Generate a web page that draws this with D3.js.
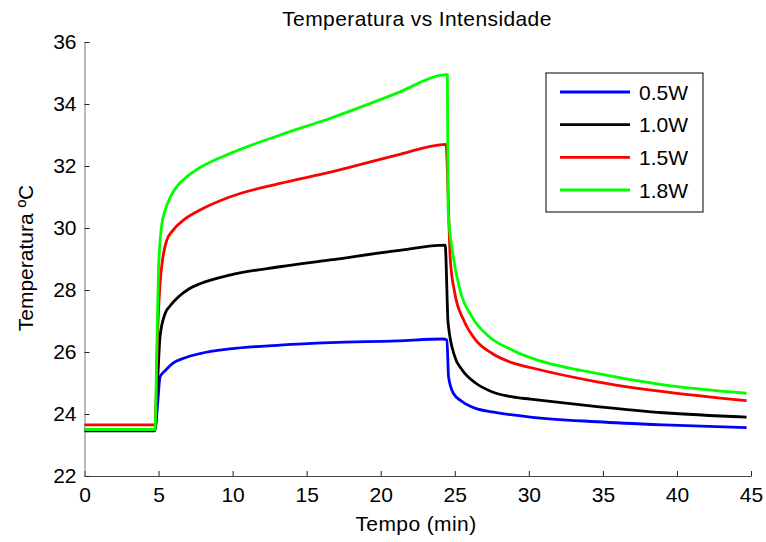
<!DOCTYPE html>
<html>
<head>
<meta charset="utf-8">
<script src="https://cdn.jsdelivr.net/npm/d3@7"></script>
<style>
  body { margin: 0; background: #fff; }
  text { font-family: Arial, "Liberation Sans", sans-serif; }
</style>
</head>
<body>
<svg id="chart" width="766" height="542"></svg>
<script>
// time (min) and temperature (C), one pair of arrays per power level
var t05 = [0, 4.76, 4.95, 5.1, 5.45, 6.0, 6.7, 7.8, 9.8, 13.2, 16.6, 21.1, 24.2, 24.47, 24.58, 24.9, 25.5, 26.4, 27.5, 28.9, 30.1, 34.6, 39.1, 44.7];
var v05 = [23.5, 23.5, 24.4, 25.2, 25.4, 25.65, 25.8, 25.95, 26.1, 26.22, 26.3, 26.36, 26.42, 26.39, 25.2, 24.67, 24.4, 24.18, 24.07, 23.97, 23.9, 23.75, 23.65, 23.56];

var t10 = [0, 4.76, 4.95, 5.1, 5.45, 5.8, 6.35, 7.1, 7.8, 9.8, 13.2, 16.6, 21.1, 24.35, 24.55, 25.0, 25.5, 26.4, 27.5, 28.9, 30.1, 34.6, 39.1, 44.7];
var v10 = [23.46, 23.46, 25.2, 26.5, 27.25, 27.5, 27.78, 28.05, 28.2, 28.48, 28.75, 28.97, 29.27, 29.45, 26.93, 25.85, 25.42, 25.0, 24.72, 24.55, 24.48, 24.24, 24.04, 23.9];

var t15 = [0, 4.76, 4.95, 5.1, 5.3, 5.55, 6.0, 6.7, 7.8, 9.8, 13.2, 16.6, 21.1, 24.4, 24.7, 25.0, 25.6, 26.4, 27.5, 28.9, 30.1, 34.6, 39.1, 44.7];
var v15 = [23.65, 23.65, 26.8, 28.2, 29.07, 29.6, 29.94, 30.26, 30.58, 31.0, 31.44, 31.8, 32.35, 32.7, 28.97, 27.9, 27.03, 26.39, 25.96, 25.65, 25.5, 25.04, 24.72, 24.43];

var t18 = [0, 4.76, 4.9, 5.0, 5.2, 5.45, 5.8, 6.2, 6.9, 7.8, 9.8, 13.2, 16.6, 21.1, 24.2, 24.5, 24.55, 24.9, 25.35, 26.15, 27.3, 28.9, 30.1, 34.6, 39.1, 44.7];
var v18 = [23.5, 23.5, 26.5, 28.7, 30.04, 30.58, 31.0, 31.32, 31.65, 31.95, 32.4, 33.0, 33.54, 34.35, 34.94, 34.95, 30.58, 29.07, 28.0, 27.14, 26.5, 26.06, 25.82, 25.31, 24.94, 24.67];

var seriesNames = ["0.5W", "1.0W", "1.5W", "1.8W"];
var seriesColors = ["#0000ff", "#000000", "#ff0000", "#00ff00"];
var seriesTimes = [t05, t10, t15, t18];
var seriesValues = [v05, v10, v15, v18];

var xTicks = [0, 5, 10, 15, 20, 25, 30, 35, 40, 45];
var yTicks = [22, 24, 26, 28, 30, 32, 34, 36];

var svg = d3.select("#chart");

var x = d3.scaleLinear().domain([0, 45]).range([84.5, 751]);
var y = d3.scaleLinear().domain([22, 36]).range([476, 42]);

// MATLAB-like axes: ticks pointing inward, no box
var xAxis = svg.append("g")
    .attr("transform", "translate(0," + y(22) + ")")
    .call(d3.axisBottom(x).tickValues(xTicks).tickSizeInner(-5).tickSizeOuter(0).tickPadding(11));
var yAxis = svg.append("g")
    .attr("transform", "translate(" + x(0) + ",0)")
    .call(d3.axisLeft(y).tickValues(yTicks).tickSizeInner(-5).tickSizeOuter(0).tickPadding(8));

xAxis.select(".domain").attr("stroke", "#444");
yAxis.select(".domain").attr("stroke", "#777");
svg.selectAll(".tick line").attr("stroke", "#222");
svg.selectAll(".tick text")
    .attr("font-size", 21)
    .attr("fill", "#000")
    .style("font-family", "Arial, 'Liberation Sans', sans-serif");

var line = d3.line()
    .curve(d3.curveMonotoneX)
    .x(function(d) { return x(d[0]); })
    .y(function(d) { return y(d[1]); });

seriesNames.forEach(function(name, i) {
    var pts = seriesTimes[i].map(function(t, j) { return [t, seriesValues[i][j]]; });
    svg.append("path")
        .datum(pts)
        .attr("fill", "none")
        .attr("stroke", seriesColors[i])
        .attr("stroke-width", 2.8)
        .attr("stroke-linejoin", "round")
        .attr("d", line);
});

// title and labels
svg.append("text")
    .attr("x", 417).attr("y", 26)
    .attr("text-anchor", "middle")
    .attr("font-size", 21)
    .attr("letter-spacing", 0.4)
    .text("Temperatura vs Intensidade");

svg.append("text")
    .attr("x", 416).attr("y", 531)
    .attr("text-anchor", "middle")
    .attr("font-size", 21)
    .attr("letter-spacing", 0.4)
    .text("Tempo (min)");

svg.append("text")
    .attr("transform", "translate(33,258) rotate(-90)")
    .attr("text-anchor", "middle")
    .attr("font-size", 21)
    .text("Temperatura ºC");

// legend
var legend = svg.append("g");
legend.append("rect")
    .attr("x", 546).attr("y", 73)
    .attr("width", 157).attr("height", 139)
    .attr("fill", "#fff")
    .attr("stroke", "#000")
    .attr("stroke-width", 1);

var legendY = d3.scalePoint().domain(seriesNames).range([92, 190]);
seriesNames.forEach(function(name, i) {
    legend.append("line")
        .attr("x1", 560).attr("x2", 630)
        .attr("y1", legendY(name)).attr("y2", legendY(name))
        .attr("stroke", seriesColors[i])
        .attr("stroke-width", 2.8);
    legend.append("text")
        .attr("x", 639).attr("y", legendY(name) + 7.5)
        .attr("font-size", 21)
        .text(name);
});
</script>
</body>
</html>
